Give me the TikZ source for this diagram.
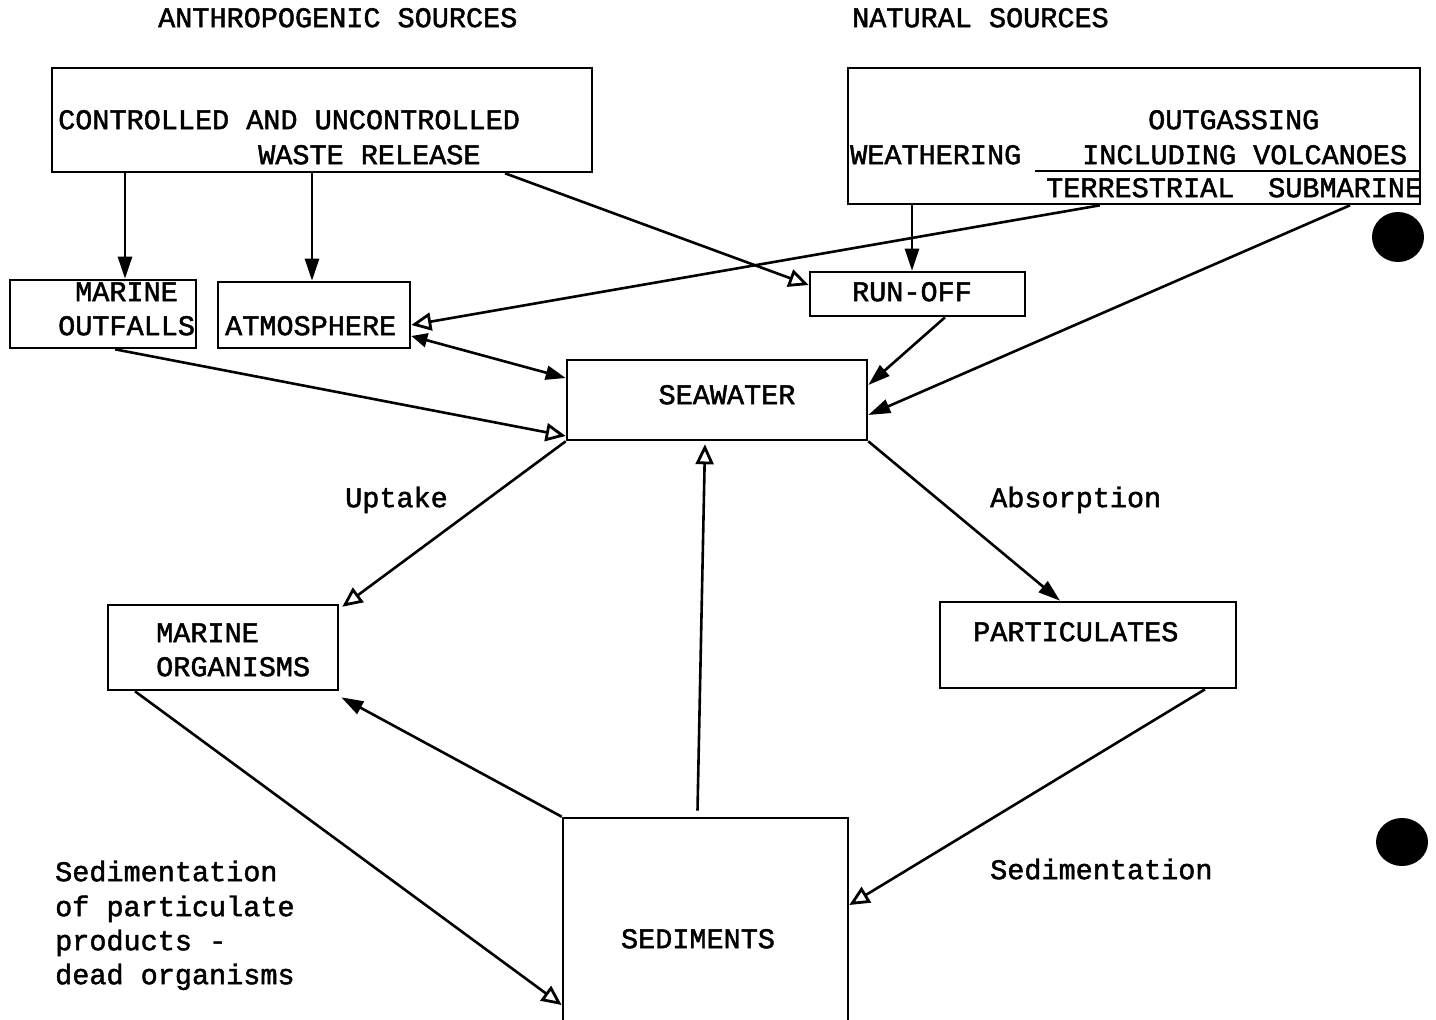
\documentclass[tikz,border=0pt]{standalone}
\usepackage{fontspec}
\newfontfamily\tw{Liberation Mono}[FakeBold=1.6]
\usetikzlibrary{arrows.meta,calc}
\tikzset{
  box/.style={draw, line width=2.6pt, inner sep=0pt, rectangle},
  txt/.style={inner sep=0pt, font=\tw\fontsize{28.5}{34}\selectfont, yshift=-6pt},
  conn/.style={line width=2.6pt},
  openhead/.style={conn, -{Triangle[open, length=20pt, width=18pt, line width=2.8pt]}},
  fillhead/.style={conn, -{Triangle[length=22pt, width=14pt]}},
  bothhead/.style={conn, {Triangle[length=16pt, width=14pt]}-{Triangle[length=20pt, width=14pt]}},
}
\begin{document}
\begin{tikzpicture}[x=1pt,y=-1pt]
\clip (0,0) rectangle (1436,1020);
\fill[white] (0,0) rectangle (1436,1020);

% boxes
\node[box, minimum width=540pt, minimum height=104pt] (waste) at (322,120) {};
\node[box, minimum width=572pt, minimum height=136pt] (natural) at (1134,136) {};
\node[box, minimum width=186pt, minimum height=68pt] (outfalls) at (103,314) {};
\node[box, minimum width=192pt, minimum height=66pt] (atmos) at (314,315) {};
\node[box, minimum width=215pt, minimum height=44pt] (runoff) at (917.5,294) {};
\node[box, minimum width=300pt, minimum height=80pt] (seawater) at (717,400) {};
\node[box, minimum width=230pt, minimum height=85pt] (organisms) at (223,647.5) {};
\node[box, minimum width=296pt, minimum height=86pt] (particulates) at (1088,645) {};
\node[box, minimum width=285pt, minimum height=212pt] (sediments) at (705.5,924) {};

% line inside natural box
\coordinate (natline) at (1035,171);
\draw[line width=2.6pt] (natline) -- (natline -| natural.east);

% headings
\node[txt, anchor=mid west] (hanthro) at (158,19) {ANTHROPOGENIC SOURCES};
\node[txt, anchor=mid west] (hnat) at (852,19) {NATURAL SOURCES};

% box texts
\node[txt, anchor=mid west] (w1) at (58,121) {CONTROLLED AND UNCONTROLLED};
\node[txt, anchor=mid west] (w2) at (258,156) {WASTE RELEASE};
\node[txt, anchor=mid west] (n1) at (1148,121) {OUTGASSING};
\node[txt, anchor=mid west] (n2) at (850,156) {WEATHERING};
\node[txt, anchor=mid west] (n3) at (1082,156) {INCLUDING VOLCANOES};
\node[txt, anchor=mid west] (n4) at (1046,189) {TERRESTRIAL};
\node[txt, anchor=mid west] (n5) at (1268,189) {SUBMARINE};
\node[txt, anchor=mid west] (o1) at (75,293) {MARINE};
\node[txt, anchor=mid west] (o2) at (58,327) {OUTFALLS};
\node[txt, anchor=mid west] (a1) at (225,327) {ATMOSPHERE};
\node[txt, anchor=mid] (r1) at (912,293) {RUN-OFF};
\node[txt, anchor=mid] (s1) at (727,396) {SEAWATER};
\node[txt, anchor=mid west] (m1) at (156,634) {MARINE};
\node[txt, anchor=mid west] (m2) at (156,668) {ORGANISMS};
\node[txt, anchor=mid west] (p1) at (973,633) {PARTICULATES};
\node[txt, anchor=mid] (d1) at (698,940) {SEDIMENTS};

% connector labels
\node[txt, anchor=mid west] (lup) at (345,499) {Uptake};
\node[txt, anchor=mid west] (labs) at (990,499) {Absorption};
\node[txt, anchor=mid west] (lsed) at (990,871) {Sedimentation};
\node[txt, anchor=mid west] (ls1) at (55,873) {Sedimentation};
\node[txt, anchor=mid west] (ls2) at (55,908) {of particulate};
\node[txt, anchor=mid west] (ls3) at (55,942) {products -};
\node[txt, anchor=mid west] (ls4) at (55,976) {dead organisms};

% connectors
\draw[fillhead] ([xshift=-197pt]waste.south) -- ([xshift=22pt]outfalls.north);
\draw[fillhead] ([xshift=-10pt]waste.south) -- ([xshift=-2pt]atmos.north);
\draw[openhead] ([xshift=183pt]waste.south) -- ([yshift=9pt]runoff.west);
\draw[fillhead] ([xshift=-222pt]natural.south) -- ([xshift=-5.5pt]runoff.north);
\draw[openhead] ([xshift=-34pt]natural.south) -- ([yshift=-10pt]atmos.east);
\draw[fillhead] ([xshift=216pt]natural.south) -- ([yshift=-15pt]seawater.east);
\draw[fillhead] ([xshift=27.5pt]runoff.south) -- ([yshift=15pt]seawater.east);
\draw[bothhead] ([yshift=-21pt]atmos.east) -- ([yshift=22pt]seawater.west);
\draw[openhead] ([xshift=12pt]outfalls.south) -- ([yshift=-36pt]seawater.west);
\draw[openhead] (seawater.south west) -- ([xshift=3pt,yshift=-3pt]organisms.north east);
\draw[fillhead] (seawater.south east) -- ([xshift=-28pt]particulates.north);
\draw[openhead] ([xshift=-8pt,yshift=6pt]sediments.north) -- ([xshift=-12pt,yshift=-3pt]seawater.south);
\draw[fillhead] (sediments.north west) -- ([xshift=2pt,yshift=-6pt]organisms.south east);
\draw[openhead] ([xshift=-88pt]organisms.south) -- ([yshift=-81pt]sediments.west);
\draw[openhead] ([xshift=117pt]particulates.south) -- ([yshift=19pt]sediments.east);

% punch holes
\fill (1398,237) ellipse [x radius=26, y radius=25];
\fill (1402,842) ellipse [x radius=26, y radius=24];
\end{tikzpicture}
\end{document}
